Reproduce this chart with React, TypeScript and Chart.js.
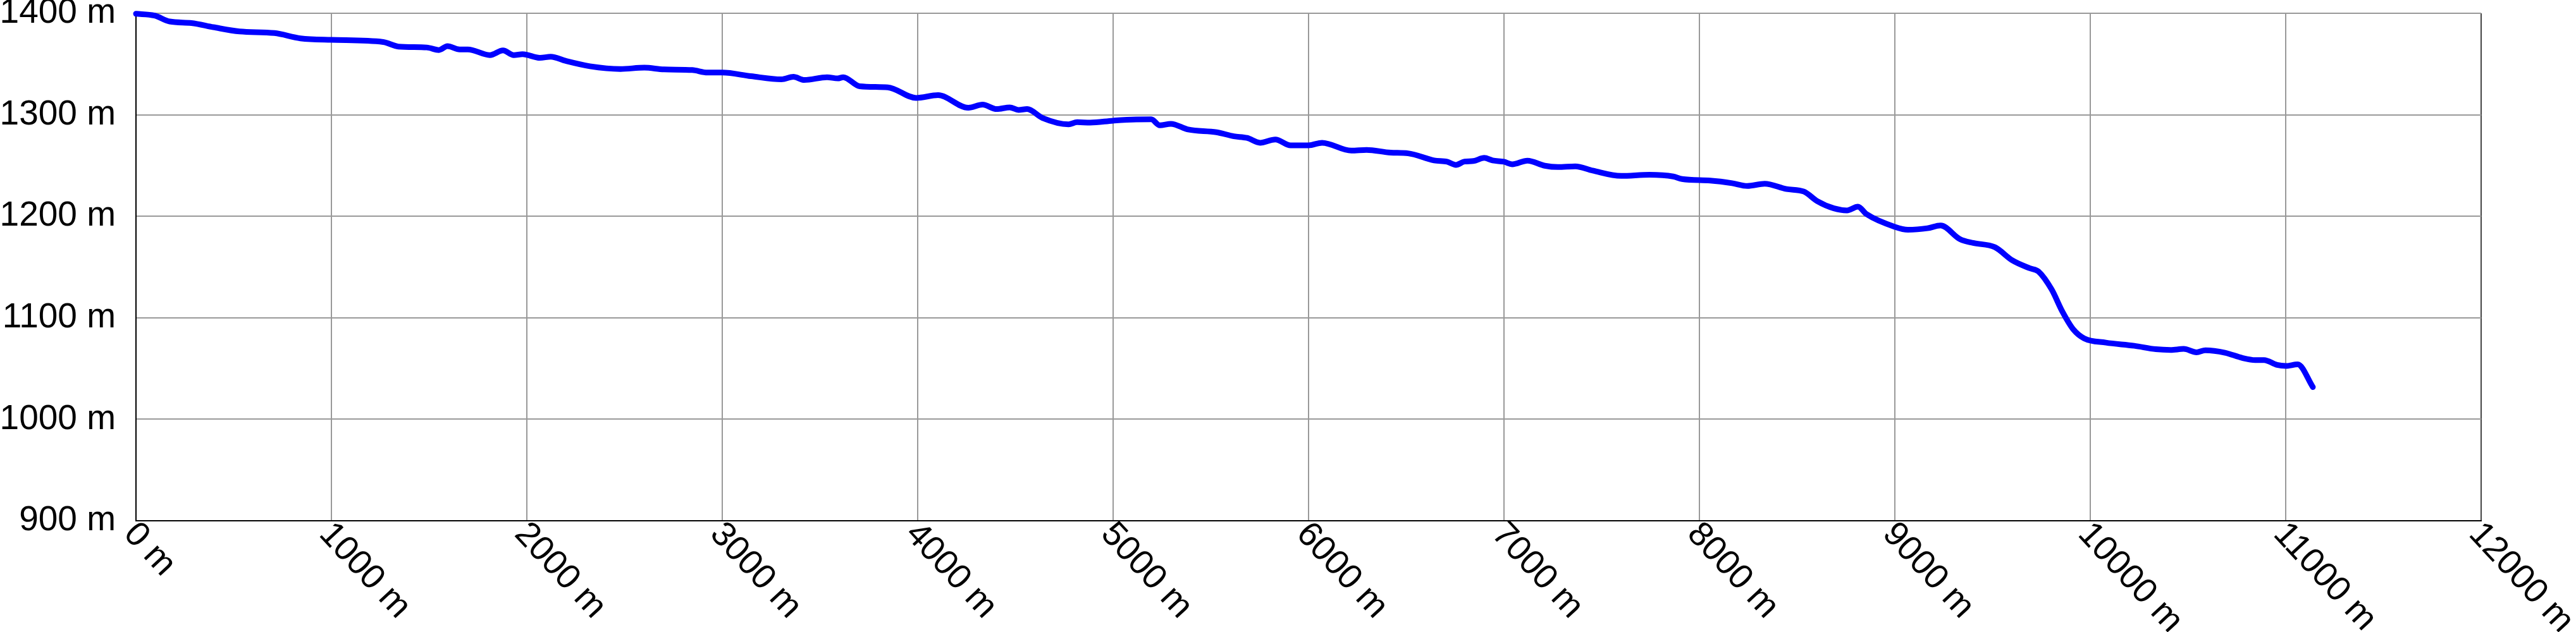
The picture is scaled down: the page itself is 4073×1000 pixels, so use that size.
import React, { useEffect, useRef } from "react";
import { Chart, registerables } from "chart.js";

Chart.register(...registerables);

// Distance along the route (m)
const distances: number[] = [
  0, 95, 173, 284, 396, 530, 708, 842, 998, 1265, 1343, 1488, 1550, 1594, 1656,
  1698, 1811, 1878, 1933, 1978, 2067, 2122, 2200, 2323, 2479, 2601, 2702, 2846,
  2924, 3000, 3147, 3303, 3364, 3420, 3536, 3591, 3619, 3703, 3847, 3992, 4104,
  4259, 4332, 4404, 4471, 4516, 4560, 4638, 4772, 4816, 4883, 5000, 5117, 5195,
  5239, 5295, 5384, 5529, 5618, 5685, 5752, 5830, 5908, 6000, 6069, 6219, 6297,
  6420, 6509, 6643, 6709, 6754, 6798, 6843, 6899, 6942, 7000, 7042, 7120, 7209,
  7276, 7365, 7454, 7599, 7744, 7866, 7911, 8056, 8167, 8245, 8334, 8446, 8535,
  8602, 8688, 8755, 8811, 8855, 9000, 9067, 9167, 9234, 9334, 9401, 9512, 9601,
  9690, 9735, 9802, 9857, 9913, 9969, 10080, 10225, 10336, 10411, 10478, 10544,
  10589, 10689, 10778, 10844, 10889, 10956, 11000, 11061, 11139,
];

// Elevation (m)
const elevations: number[] = [
  1399.5, 1397.7, 1391.9, 1390.4, 1386.3, 1382.1, 1380.5, 1375.3, 1373.8, 1371.7,
  1367.2, 1366.3, 1363.8, 1367.6, 1364.4, 1364.4, 1358.8, 1363.4, 1358.8, 1359.7,
  1356.1, 1357.2, 1353.0, 1347.8, 1345.1, 1346.4, 1344.7, 1344.1, 1341.6, 1341.6,
  1338.0, 1334.9, 1337.4, 1334.3, 1337.0, 1335.8, 1337.0, 1328.1, 1327.0, 1316.6,
  1319.3, 1306.9, 1310.0, 1305.6, 1307.3, 1304.8, 1305.6, 1296.9, 1290.6, 1292.7,
  1292.3, 1294.2, 1295.4, 1295.5, 1289.6, 1291.1, 1285.5, 1282.8, 1278.8, 1277.2,
  1272.4, 1275.7, 1269.9, 1269.9, 1272.4, 1264.7, 1265.4, 1262.7, 1262.0, 1255.0,
  1253.7, 1250.6, 1253.9, 1254.4, 1257.5, 1255.0, 1253.7, 1251.2, 1254.8, 1249.8,
  1248.5, 1249.2, 1245.0, 1239.8, 1240.9, 1239.2, 1236.7, 1235.1, 1232.6, 1229.9,
  1232.0, 1226.8, 1224.3, 1215.0, 1207.8, 1205.8, 1209.5, 1202.1, 1189.6, 1186.7,
  1188.2, 1190.9, 1177.4, 1173.7, 1169.5, 1156.6, 1148.8, 1145.6, 1128.0, 1106.2,
  1088.6, 1079.7, 1075.5, 1072.4, 1069.0, 1068.3, 1069.3, 1066.0, 1068.0, 1065.6,
  1060.4, 1058.3, 1058.3, 1053.5, 1052.5, 1054.1, 1031.7,
];

// Axis ticks
const xTicks: number[] = [0, 1000, 2000, 3000, 4000, 5000, 6000, 7000, 8000, 9000, 10000, 11000, 12000];
const xTickLabels: string[] = xTicks.map((v) => `${v} m`);
const yTicks: number[] = [900, 1000, 1100, 1200, 1300, 1400];
const yTickLabels: string[] = yTicks.map((v) => `${v} m`);

const FONT = '"Liberation Sans", Arial, sans-serif';
const FONT_SIZE = 55;

const xLabelPlugin = {
  id: "rotatedXLabels",
  afterDraw(chart: any) {
    const { ctx, chartArea } = chart;
    const x = chart.scales.x;
    ctx.save();
    ctx.font = `${FONT_SIZE}px ${FONT}`;
    ctx.fillStyle = "#000";
    ctx.textAlign = "left";
    ctx.textBaseline = "alphabetic";
    xTicks.forEach((v, i) => {
      const px = x.getPixelForValue(v);
      ctx.save();
      ctx.translate(px, chartArea.bottom);
      ctx.rotate((47 * Math.PI) / 180);
      ctx.fillText(xTickLabels[i], 2, 31);
      ctx.restore();
    });
    ctx.restore();
  },
};

export default function App() {
  const canvasRef = useRef<HTMLCanvasElement | null>(null);

  useEffect(() => {
    document.body.style.margin = "0";
    const canvas = canvasRef.current;
    if (!canvas) return;
    const points = distances.map((d, i) => ({ x: d, y: elevations[i] }));
    const chart = new Chart(canvas, {
      type: "line",
      data: {
        datasets: [
          {
            data: points,
            borderColor: "#0000ff",
            borderWidth: 9,
            borderCapStyle: "round",
            borderJoinStyle: "round",
            pointRadius: 0,
            fill: false,
            cubicInterpolationMode: "monotone",
            clip: false as any,
          },
        ],
      },
      options: {
        animation: false,
        responsive: false,
        devicePixelRatio: 1,
        layout: { padding: { top: 21, right: 150, left: 0, bottom: 0 } },
        plugins: {
          legend: { display: false },
          tooltip: { enabled: false },
        },
        scales: {
          x: {
            type: "linear",
            min: 0,
            max: 12000,
            afterBuildTicks: (scale: any) => {
              scale.ticks = xTicks.map((v) => ({ value: v }));
            },
            ticks: { display: false },
            grid: {
              color: (c: any) => (c.tick && c.tick.value === 12000 ? "#444" : "#999"),
              lineWidth: 2,
              drawTicks: false,
            },
            border: { color: "#000", width: 2 },
            afterFit: (scale: any) => {
              scale.height = 176;
              scale.paddingLeft = 0;
              scale.paddingRight = 0;
            },
          },
          y: {
            type: "linear",
            min: 900,
            max: 1400,
            afterBuildTicks: (scale: any) => {
              scale.ticks = yTicks.map((v) => ({ value: v }));
            },
            ticks: {
              padding: 32,
              color: "#000",
              font: { family: FONT, size: FONT_SIZE },
              callback: (_v: any, i: number) => yTickLabels[i],
            },
            grid: { color: "#999", lineWidth: 2, drawTicks: false },
            border: { color: "#000", width: 2 },
            afterFit: (scale: any) => {
              scale.width = 215;
              scale.paddingTop = 0;
              scale.paddingBottom = 0;
            },
          },
        },
      },
      plugins: [xLabelPlugin],
    });
    return () => chart.destroy();
  }, []);

  return (
    <div style={{ position: "absolute", left: 0, top: 0, width: 4073, height: 1000, background: "#fff" }}>
      <canvas ref={canvasRef} width={4073} height={1000} style={{ display: "block" }} />
    </div>
  );
}
